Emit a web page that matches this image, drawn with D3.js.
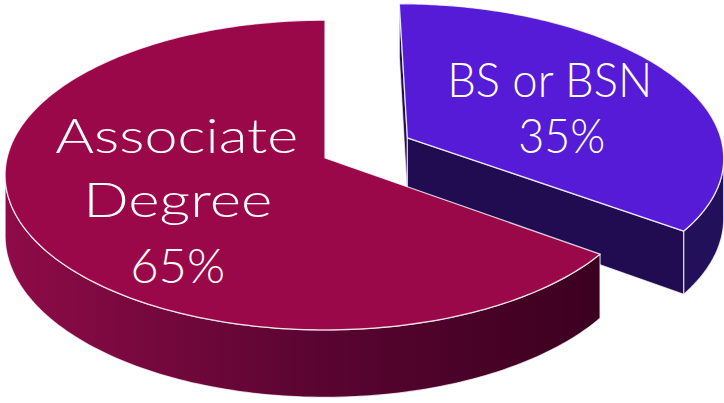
<!DOCTYPE html>
<html>
<head>
<meta charset="utf-8">
<script src="https://cdn.jsdelivr.net/npm/d3@7"></script>
<style>
  html, body { margin: 0; padding: 0; background: #ffffff; }
  svg { display: block; }
</style>
</head>
<body>
<svg id="chart" width="724" height="403"></svg>
<script>
// ---- data ----
const categories = ["BS or BSN", "Associate Degree"];
const values = [35, 65];
const labelLines = [["BS or BSN"], ["Associate", "Degree"]];

// ---- style / layout ----
const topColors = ["#561BD6", "#9B084A"];
const sideColors = ["#23105A", null];
const radialColors = ["#210C51", "#5A0430"];
const explode = [0.295, 0];
const cx = 325, cy = 158, rx = 318, ry = 153, k = 0.11, H = 60;

const svg = d3.select("#chart");
const defs = svg.append("defs");
const grad = defs.append("linearGradient")
  .attr("id", "maroonSide").attr("gradientUnits", "userSpaceOnUse")
  .attr("x1", 5).attr("y1", 0).attr("x2", 600).attr("y2", 0);
grad.append("stop").attr("offset", "0").attr("stop-color", "#8E0B48");
grad.append("stop").attr("offset", "0.5").attr("stop-color", "#5C0532");
grad.append("stop").attr("offset", "1").attr("stop-color", "#3B001F");

function proj(X, Z, d) {
  const s = 1 / (1 + k * Z);
  return [cx + rx * X * s, cy - ry * Z * s + d * s];
}
function area(pts) {
  let a = 0;
  for (let i = 0; i < pts.length; i++) {
    const p = pts[i], q = pts[(i + 1) % pts.length];
    a += p[0] * q[1] - q[0] * p[1];
  }
  return a / 2;
}
const line = d3.line();

const pie = d3.pie().sort(null).value(d => d);
const arcs = pie(values);

// draw order: exploded (back) slice first, then the large slice
const order = [0, 1];
order.forEach(i => {
  const a = arcs[i];
  const mid = (a.startAngle + a.endAngle) / 2;
  const ox = explode[i] * Math.sin(mid), oz = explode[i] * Math.cos(mid);
  const T = t => proj(ox + Math.sin(t), oz + Math.cos(t), 0);
  const B = t => proj(ox + Math.sin(t), oz + Math.cos(t), H);
  const aT = proj(ox, oz, 0), aB = proj(ox, oz, H);
  const N = 200;
  const ts = d3.range(N + 1).map(j => a.startAngle + (a.endAngle - a.startAngle) * j / N);

  // top face (reference winding)
  const topPts = [aT].concat(ts.slice().reverse().map(T));
  const refSign = Math.sign(area(topPts));
  const g = svg.append("g");

  // radial faces
  const startFace = [T(a.startAngle), B(a.startAngle), aB, aT];
  const endFace = [B(a.endAngle), T(a.endAngle), aT, aB];
  [startFace, endFace].forEach(f => {
    if (Math.sign(area(f)) === refSign && Math.abs(area(f)) > 50) {
      g.append("path").attr("d", line(f) + "Z")
        .attr("fill", radialColors[i])
        .attr("stroke", "rgba(255,255,255,0.7)").attr("stroke-width", 1.2)
        .attr("stroke-linejoin", "round");
    }
  });

  // outer side: visible strips
  let run = [];
  for (let j = 0; j < N; j++) {
    const q = [T(ts[j]), T(ts[j + 1]), B(ts[j + 1]), B(ts[j])];
    if (Math.sign(area(q)) === refSign) run.push(j);
  }
  if (run.length) {
    const j0 = run[0], j1 = run[run.length - 1] + 1;
    const seg = ts.slice(j0, j1 + 1);
    const pts = seg.map(T).concat(seg.slice().reverse().map(B));
    g.append("path").attr("d", line(pts) + "Z")
      .attr("fill", sideColors[i] || "url(#maroonSide)")
      .attr("stroke", "rgba(255,255,255,0.75)").attr("stroke-width", 1.2)
      .attr("stroke-linejoin", "round");
  }

  g.append("path").attr("d", line(topPts) + "Z")
    .attr("fill", topColors[i])
    .attr("stroke", "rgba(255,255,255,0.8)").attr("stroke-width", 1.3)
    .attr("stroke-linejoin", "round");
});

// ---- labels ----
const labelLayout = [
  { dx: [8, 20], dy: [-8, 48], len: [205, 87] },
  { dx: [-3, -2, -2], dy: [-41, 23, 89], len: [243, 189, 95] }
];
arcs.forEach((a, i) => {
  const mid = (a.startAngle + a.endAngle) / 2;
  const ox = explode[i] * Math.sin(mid), oz = explode[i] * Math.cos(mid);
  const c = proj(ox + 0.5 * Math.sin(mid), oz + 0.5 * Math.cos(mid), 0);
  const lines = labelLines[i].concat([values[i] + "%"]);
  const L = labelLayout[i];
  lines.forEach((t, j) => {
    svg.append("text")
      .attr("x", c[0] + L.dx[j]).attr("y", c[1] + L.dy[j])
      .attr("text-anchor", "middle")
      .attr("font-family", "Lato, 'DejaVu Sans', sans-serif")
      .attr("font-weight", 300)
      .attr("font-size", 47)
      .attr("fill", "#ffffff")
      .attr("textLength", L.len[j])
      .attr("lengthAdjust", "spacingAndGlyphs")
      .text(t);
  });
});
</script>
</body>
</html>
